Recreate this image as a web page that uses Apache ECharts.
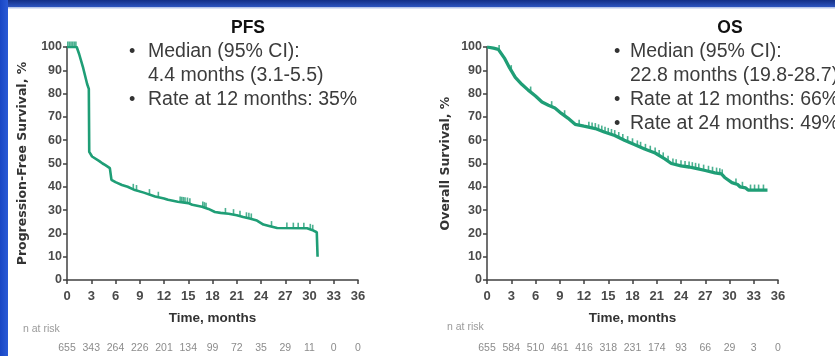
<!DOCTYPE html>
<html>
<head>
<meta charset="utf-8">
<script src="https://cdn.jsdelivr.net/npm/echarts@6/dist/echarts.min.js"></script>
<style>
  html, body { margin: 0; padding: 0; background: #ffffff; }
  #chart { width: 835px; height: 356px; }
</style>
</head>
<body>
<div id="chart"></div>
<script>
// Kaplan-Meier estimates: [month, percent surviving]
const pfsCurve = [
  [0, 100], [1.2, 100], [1.5, 97], [2.0, 91], [2.5, 84], [2.7, 82], [2.75, 55],
  [3.1, 53], [4.0, 51], [4.4, 50], [4.7, 49.4], [5.3, 48], [5.5, 43], [6.0, 42],
  [6.8, 40.8], [7.5, 40], [8.4, 38.6], [9.5, 37.5], [10.9, 35.8], [12, 35],
  [12.5, 34.4], [13.7, 33.6], [15, 33], [15.5, 32.3], [16.7, 31.4], [17.5, 30.5],
  [18.3, 29.2], [19, 28.8], [20, 28.4], [21, 27.8], [21.8, 27], [22.6, 26.4],
  [23.5, 25.5], [24.3, 23.8], [25, 23.2], [26, 22.3], [29.7, 22.2], [30.3, 21.5],
  [30.9, 20.5], [31, 10]
];
const osCurve = [
  [0, 100], [0.8, 99.5], [1.4, 99], [2.2, 95], [2.8, 91], [3.5, 87], [4.3, 84],
  [5.1, 81.5], [6.0, 79], [6.8, 76.4], [7.6, 75], [8.4, 73.8], [9.2, 71.5],
  [10, 69.5], [10.9, 66.8], [12, 66], [13.4, 65], [14.5, 63.5], [15.8, 62],
  [17, 60], [18.3, 58], [19.5, 56.2], [20.8, 54.5], [22, 52], [22.8, 50],
  [24, 49], [25, 48.5], [25.7, 48], [27, 47], [28.2, 46], [29, 45.5], [29.4, 44],
  [30.3, 41.8], [31, 41], [31.3, 40], [32, 39.5], [32.3, 38.6], [34.7, 38.6]
];

// Censoring times (months)
const pfsCensored = [0.1, 0.3, 0.5, 0.7, 0.9, 1.1, 8.2, 8.6, 10.2, 11.3, 14.0, 14.2, 14.4,
  14.6, 14.9, 15.2, 16.8, 17.0, 17.2, 19.6, 20.6, 21.4, 22.2, 22.5, 22.8, 25.3, 27.2,
  28.0, 28.6, 29.3, 30.1, 30.4];
const osCensored = [1.5, 3.0, 5.4, 8.0, 9.6, 11.4, 12.6, 13.0, 13.4, 13.8, 14.2, 14.6,
  15.0, 15.4, 15.8, 16.3, 16.8, 17.4, 18.0, 18.6, 19.0, 19.6, 20.2, 20.8, 21.3, 21.8,
  22.4, 23.0, 23.4, 24.0, 24.5, 25.0, 25.4, 25.8, 26.2, 26.8, 27.4, 27.9, 28.4, 28.8,
  29.1, 30.8, 31.6, 32.6, 33.1, 33.6, 34.2];

// Numbers at risk every 3 months (0 to 36)
const pfsAtRisk = [655, 343, 264, 226, 201, 134, 99, 72, 35, 29, 11, 0, 0];
const osAtRisk = [655, 584, 510, 461, 416, 318, 231, 174, 93, 66, 29, 3, 0];

const pfsNotes = ['Median (95% CI):', '4.4 months (3.1-5.5)', 'Rate at 12 months: 35%'];
const pfsBullets = [true, false, true];
const osNotes = ['Median (95% CI):', '22.8 months (19.8-28.7)', 'Rate at 12 months: 66%', 'Rate at 24 months: 49%'];
const osBullets = [true, false, true, true];

// Value of the drawn polyline at time t, for placing censor ticks on it
function survivalAt(curve, t) {
  for (let i = 1; i < curve.length; i++) {
    const [m0, s0] = curve[i - 1], [m1, s1] = curve[i];
    if (t <= m1) return m1 === m0 ? s1 : s0 + (s1 - s0) * (t - m0) / (m1 - m0);
  }
  return curve[curve.length - 1][1];
}

const GREEN = '#1f9e76';
const AXIS = '#404040';
const FONT = '"Liberation Sans", Arial, sans-serif';
const WIDE = '"DejaVu Sans", Verdana, sans-serif';

const grids = [
  { left: 67, top: 47, width: 291, height: 233 },
  { left: 487, top: 47, width: 291, height: 233 }
];

function timeAxis(gridIndex) {
  return {
    type: 'value', gridIndex, min: 0, max: 36, interval: 3,
    name: 'Time, months', nameLocation: 'middle', nameGap: 31,
    nameTextStyle: { fontFamily: FONT, fontSize: 13.5, fontWeight: 'bold', color: '#333' },
    axisLine: { show: true, lineStyle: { color: AXIS, width: 1.5 } },
    axisTick: { show: true, length: 4, lineStyle: { color: AXIS, width: 1.5 } },
    axisLabel: { margin: 10, fontFamily: FONT, fontSize: 13, fontWeight: 'bold', color: '#4a4a4a' },
    splitLine: { show: false }
  };
}
function riskAxis(gridIndex, counts) {
  return {
    type: 'value', gridIndex, min: 0, max: 36, interval: 3, position: 'bottom', offset: 60,
    axisLine: { show: false }, axisTick: { show: false }, splitLine: { show: false },
    axisLabel: {
      margin: 3, fontFamily: FONT, fontSize: 10.5, color: '#8c8c8c',
      formatter: v => String(counts[Math.round(v / 3)])
    }
  };
}
function survAxis(gridIndex, title, gap) {
  return {
    type: 'value', gridIndex, min: 0, max: 100, interval: 10,
    name: title, nameLocation: 'middle', nameGap: gap,
    nameTextStyle: { fontFamily: WIDE, fontSize: 12.5, fontWeight: 'bold', color: '#333' },
    axisLine: { show: true, lineStyle: { color: AXIS, width: 1.5 } },
    axisTick: { show: true, length: 4, lineStyle: { color: AXIS, width: 1.5 } },
    axisLabel: { margin: 5, fontFamily: FONT, fontSize: 12.5, fontWeight: 'bold', color: '#4a4a4a' },
    splitLine: { show: false }
  };
}

function notes(lines, bullets, bx, tx) {
  const out = [];
  lines.forEach((txt, i) => {
    const y = 52 + i * 24;
    if (bullets[i]) out.push({ type: 'text', x: bx, y: y, style: { text: '•', font: '18px ' + FONT, fill: '#333', textVerticalAlign: 'middle' } });
    out.push({ type: 'text', x: tx, y: y, style: { text: txt, font: '19.5px ' + FONT, fill: '#3c3c3c', textVerticalAlign: 'middle' } });
  });
  return out;
}

function curveSeries(idx, curve, width) {
  return {
    type: 'line', xAxisIndex: idx, yAxisIndex: idx, data: curve, showSymbol: false,
    lineStyle: { color: GREEN, width }, silent: true, animation: false
  };
}
function censorSeries(idx, curve, times) {
  return {
    type: 'scatter', xAxisIndex: idx, yAxisIndex: idx,
    data: times.map(t => [t, survivalAt(curve, t)]),
    symbol: 'rect', symbolSize: [1.6, 6], symbolOffset: [0, -2.5],
    itemStyle: { color: GREEN }, silent: true, animation: false
  };
}

const chart = echarts.init(document.getElementById('chart'), null, { renderer: 'canvas' });
chart.setOption({
  backgroundColor: '#ffffff',
  animation: false,
  grid: grids,
  xAxis: [timeAxis(0), timeAxis(1), riskAxis(0, pfsAtRisk), riskAxis(1, osAtRisk)],
  yAxis: [survAxis(0, 'Progression-Free Survival, %', 38), survAxis(1, 'Overall Survival, %', 35)],
  title: [
    { text: 'PFS', left: 248, top: 19, textAlign: 'center', textStyle: { fontFamily: FONT, fontSize: 17.5, fontWeight: 'bold', color: '#111' }, padding: 0 },
    { text: 'OS', left: 730, top: 19, textAlign: 'center', textStyle: { fontFamily: FONT, fontSize: 17.5, fontWeight: 'bold', color: '#111' }, padding: 0 }
  ],
  series: [
    curveSeries(0, pfsCurve, 2.6), censorSeries(0, pfsCurve, pfsCensored),
    curveSeries(1, osCurve, 3.3), censorSeries(1, osCurve, osCensored)
  ],
  graphic: [
    // slide frame: dark blue band on top, blue strip on the left
    { type: 'rect', shape: { x: 0, y: 0, width: 835, height: 7 }, z: 10,
      style: { fill: new echarts.graphic.LinearGradient(0, 0, 0, 1, [
        { offset: 0, color: '#142f86' }, { offset: 1, color: '#2d55c0' }]) } },
    { type: 'rect', shape: { x: 0, y: 7, width: 835, height: 1.5 }, z: 10, style: { fill: '#b9c7ea' } },
    { type: 'rect', shape: { x: 0, y: 0, width: 8, height: 356 }, z: 11,
      style: { fill: new echarts.graphic.LinearGradient(0, 0, 1, 0, [
        { offset: 0, color: '#1846c4' }, { offset: 1, color: '#2a5ad6' }]) } },
    { type: 'text', x: 23, y: 329, style: { text: 'n at risk', font: '10.5px ' + FONT, fill: '#9a9a9a', textVerticalAlign: 'middle' } },
    { type: 'text', x: 447, y: 327, style: { text: 'n at risk', font: '10.5px ' + FONT, fill: '#9a9a9a', textVerticalAlign: 'middle' } },
    ...notes(pfsNotes, pfsBullets, 129, 148),
    ...notes(osNotes, osBullets, 614, 630)
  ]
});
</script>
</body>
</html>
